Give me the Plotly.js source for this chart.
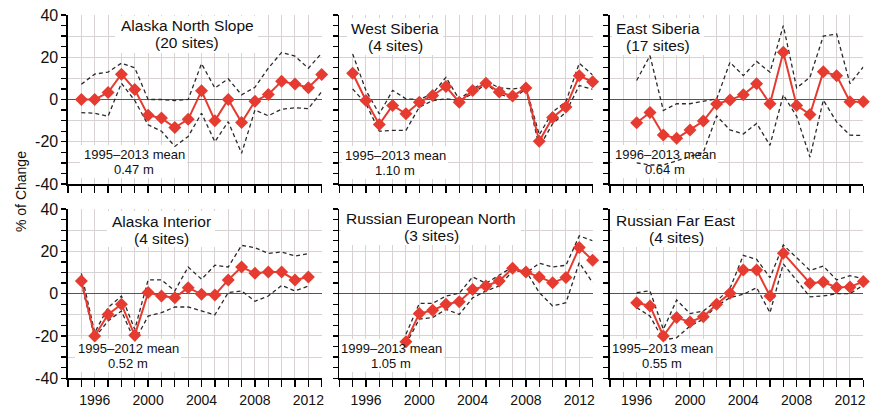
<!DOCTYPE html>
<html>
<head>
<meta charset="utf-8">
<script src="https://cdn.plot.ly/plotly-3.0.1.min.js"></script>
<style>html,body{margin:0;padding:0;background:#fff;}#chart{width:873px;height:411px;}</style>
</head>
<body>
<div id="chart"></div>
<script>
// ---------- DATA ----------
const years = [1995,1996,1997,1998,1999,2000,2001,2002,2003,2004,2005,2006,2007,2008,2009,2010,2011,2012,2013];

const regionNames = ['Alaska North Slope','West Siberia','East Siberia','Alaska Interior','Russian European North','Russian Far East'];
const siteCounts  = ['(20 sites)','(4 sites)','(17 sites)','(4 sites)','(3 sites)','(4 sites)'];
const meanPeriods = ['1995–2013 mean','1995–2013 mean','1996–2013 mean','1995–2012 mean','1999–2013 mean','1995–2013 mean'];
const meanDepths  = ['0.47 m','1.10 m','0.64 m','0.52 m','1.05 m','0.55 m'];

const ansMean  = [0, 0, 3.3, 12, 4.7, -7.5, -8.8, -13.3, -9.4, 4.1, -10, 0, -10.9, -0.8, 2.4, 8.6, 7.3, 5.6, 11.8];
const ansUpper = [7.2, 12, 13, 17.2, 15, 0, 0, -0.5, 0, 17, 5.4, 9.8, 2.2, 5.8, 14.8, 22.3, 20.5, 14.8, 21.9];
const ansLower = [-6.2, -6.5, -8, 7.7, -0.5, -12, -15, -22.2, -17.5, -6.5, -20, -10.5, -25.5, -5, -7.7, -4.6, -3.9, -4.3, 3.7];

const wsMean  = [12.4, -0.5, -11.8, -2.8, -6.8, -1.3, 1.9, 6.1, -1.3, 4.3, 7.7, 3.5, 1.6, 5.5, -19.8, -8.5, -3.5, 11.2, 8.4];
const wsUpper = [21.6, 4.3, -6.8, 4.3, 0.3, 0, 2.7, 10.5, 0, 5, 8.7, 5.5, 5, 5.8, -16.7, -5.9, -1, 17.2, 11.6];
const wsLower = [5, -2, -15, -14.6, -14.6, -3.6, -0.5, 0.3, -0.5, 2.7, 7.4, 2.7, 0.3, 5, -22.5, -11.5, -6, 6.6, 4.8];

const esMean  = [null, -11, -6.1, -16.8, -18.4, -14.4, -10.2, -2.1, -0.2, 2.2, 7.4, -2, 22.4, -2.8, -7.1, 13.1, 11.3, -1.1, -1.1];
const esUpper = [null, 9, 20.8, -5.2, -2, -2, -1, 0.3, 17.6, 11.3, 18, 12.9, 35, 5.5, 10.5, 30, 31, 7.5, 15.4];
const esLower = [null, -30, -31, -31, -29, -27, -25, -7.8, -14.4, -16.3, -11.3, -21.7, 2.2, -8, -27.3, -0.3, -10.6, -16.9, -17];

const aiMean  = [6, -20, -9.8, -5, -19.7, 0.5, -1.1, -1.9, 2.8, -0.3, -0.6, 6.5, 12.6, 9.6, 10.2, 10.2, 6.5, 7.9, null];
const aiUpper = [9.6, -18.4, -6.6, -1.1, -16.9, 6.5, 6.5, 1.3, 12.6, 6.8, 13.4, 12.6, 22.8, 21.7, 19, 19.7, 17.8, 18.9, null];
const aiLower = [4.9, -20.8, -12.9, -8.2, -22.4, -10.6, -9, -6.3, -6.3, -8.2, -10, 0.5, 1.3, -3.6, -1.1, 3.9, 1.3, 3.6, null];

const renMean  = [null, null, null, null, -22.7, -9.4, -7.9, -5, -3.8, 2, 3.6, 6, 12, 10.2, 7.9, 5.2, 7.6, 21.8, 15.8];
const renUpper = [null, null, null, null, -19.2, -4.6, -4.6, -1.1, 0.2, 7.9, 4.9, 8.8, 12.6, 9.6, 14.4, 12.6, 13.4, 27.3, 25];
const renLower = [null, null, null, null, -23.9, -12, -11.3, -7.4, -9.8, -2, 1.3, 3.6, 10.7, 10.7, 0.5, -5.8, -4.3, 14.7, 5.2];

const rfeMean  = [null, -4.3, -5.8, -20, -11.3, -13.4, -10.9, -5, 0.2, 11.2, 11.2, -1.1, 19.1, null, 4.9, 5.5, 2.9, 3.2, 5.7];
const rfeUpper = [null, 0.5, 1.3, -16.9, -3, -9.4, -8.2, -3.5, 2.4, 18.1, 16.2, 7.6, 23, null, 11, 13, 6.5, 8.5, 7];
const rfeLower = [null, -6.6, -10.6, -21.9, -20.8, -15.3, -12.1, -5.8, -1.9, -0.3, 2.8, -9, 14, null, -1.5, -1.1, 0, 0, 4];

const xTickYears  = [1996, 2000, 2004, 2008, 2012];
const xTickLabels = ['1996', '2000', '2004', '2008', '2012'];
const yTickValues = [-40, -20, 0, 20, 40];
const yTickLabels = ['-40', '-20', '0', '20', '40'];

const seriesMean  = [ansMean, wsMean, esMean, aiMean, renMean, rfeMean];
const seriesUpper = [ansUpper, wsUpper, esUpper, aiUpper, renUpper, rfeUpper];
const seriesLower = [ansLower, wsLower, esLower, aiLower, renLower, rfeLower];

// ---------- LAYOUT CONSTANTS ----------
const W = 873, H = 411;
const FONT = 'Liberation Sans, Arial, Helvetica, sans-serif';
const RED = '#e63b30';
const GRID = '#d8d2d2';
const colPx = [[68, 321.7], [339.3, 592.6], [610, 863.3]];
const rowPx = [[15, 184], [209, 378.3]];
const XMIN = 1994, XMAX = 2013;

// text placements in pixels (centre x, line1 y, line2 y) and white boxes [x0,x1,y0,y1]
const titlePos = [[187,25.5,43],[395,28.5,46],[658,28,45.5],[161,221.3,238.8],[431,218,235.5],[676,220.3,237.8]];
const titleBox = [[115,258,16,53],[347,443,18,55],[612,704,18,55],[107,215,211,247],[341,521,208,245],[612,740,210,247]];
const meanPos  = [[134,154.5,169.5],[395,155.3,170.3],[665,154.2,169.2],[128,348.5,363.5],[391,348.5,363.5],[662,348.5,363.5]];
const meanBox  = [[80,187,145,178],[342,448,146,179],[612,718,145,178],[75,181,339,372],[340,444,339,372],[611,715,339,372]];

const traces = [];
const layout = {
  width: W, height: H,
  margin: {l: 0, r: 0, t: 0, b: 0},
  paper_bgcolor: '#fff', plot_bgcolor: '#fff',
  showlegend: false,
  font: {family: FONT, color: '#111'},
  annotations: [], shapes: []
};

const allYears = [];
for (let y = XMIN; y <= XMAX; y++) allYears.push(y);
const yGridVals = [];
for (let v = -40; v <= 40; v += 10) yGridVals.push(v);

for (let p = 0; p < 6; p++) {
  const k = p + 1;
  const col = p % 3, row = Math.floor(p / 3);
  const xs = k === 1 ? 'x' : 'x' + k, ys = k === 1 ? 'y' : 'y' + k;
  const xa = k === 1 ? 'xaxis' : 'xaxis' + k, ya = k === 1 ? 'yaxis' : 'yaxis' + k;
  const [px0, px1] = colPx[col];
  const [py0, py1] = rowPx[row];

  layout[xa] = {
    domain: [px0 / W, px1 / W], anchor: ys, range: [XMIN, XMAX],
    tickmode: 'array', tickvals: allYears,
    ticktext: allYears.map(y => { const i = xTickYears.indexOf(y); return (row === 1 && i >= 0) ? xTickLabels[i] : ''; }),
    showgrid: true, gridcolor: GRID, gridwidth: 1,
    ticks: 'outside', ticklen: 7, tickwidth: 1.3, tickcolor: '#000',
    showline: true, linecolor: '#000', linewidth: 1.6, zeroline: false,
    tickfont: {size: 14, family: FONT, color: '#111'}, ticklabelstandoff: 1,
    fixedrange: true
  };
  layout[ya] = {
    domain: [1 - py1 / H, 1 - py0 / H], anchor: xs, range: [-40, 40],
    tickmode: 'array', tickvals: yGridVals,
    ticktext: yGridVals.map(v => { const i = yTickValues.indexOf(v); return (col === 0 && i >= 0) ? yTickLabels[i] : ''; }),
    showgrid: true, gridcolor: GRID, gridwidth: 1,
    zeroline: true, zerolinecolor: '#555', zerolinewidth: 1.5,
    ticks: 'outside', ticklen: 5, tickwidth: 1.3, tickcolor: '#000',
    minor: {dtick: 5, tick0: 0, ticks: 'outside', ticklen: 5, tickwidth: 1.3, tickcolor: '#000', showgrid: false},
    showline: true, linecolor: '#000', linewidth: 1.6,
    tickfont: {size: 16, family: FONT, color: '#111'},
    fixedrange: true
  };

  const dashed = {color: '#2a2a2a', width: 1.3, dash: '4px,3px'};
  traces.push({x: years, y: seriesUpper[p], xaxis: xs, yaxis: ys, type: 'scatter', mode: 'lines', line: dashed, connectgaps: true, hoverinfo: 'skip'});
  traces.push({x: years, y: seriesLower[p], xaxis: xs, yaxis: ys, type: 'scatter', mode: 'lines', line: dashed, connectgaps: true, hoverinfo: 'skip'});
  traces.push({x: years, y: seriesMean[p], xaxis: xs, yaxis: ys, type: 'scatter', mode: 'lines+markers',
    line: {color: RED, width: 2}, marker: {symbol: 'diamond', size: 10, color: RED}, connectgaps: true, cliponaxis: false});

  // helpers pixel -> data for this panel
  const toX = px => XMIN + (px - px0) / (px1 - px0) * (XMAX - XMIN);
  const toY = py => 40 - (py - py0) / (py1 - py0) * 80;
  const box = b => ({type: 'rect', xref: xs, yref: ys, layer: 'between',
    x0: toX(b[0]), x1: toX(b[1]), y0: toY(b[2]), y1: toY(b[3]),
    fillcolor: '#fff', line: {width: 0}});
  layout.shapes.push(box(titleBox[p]));
  layout.shapes.push(box(meanBox[p]));

  const ann = (text, x, y, size) => ({text, xref: 'paper', yref: 'paper', x: x / W, y: 1 - y / H,
    xanchor: 'center', yanchor: 'middle', showarrow: false, borderpad: 0,
    font: {size, family: FONT, color: '#111'}});
  layout.annotations.push(ann(regionNames[p], titlePos[p][0], titlePos[p][1], 15.5));
  layout.annotations.push(ann(siteCounts[p], titlePos[p][0], titlePos[p][2], 15.5));
  layout.annotations.push(ann(meanPeriods[p], meanPos[p][0], meanPos[p][1], 13));
  layout.annotations.push(ann(meanDepths[p], meanPos[p][0], meanPos[p][2], 13));
}

layout.annotations.push({text: '% of Change', xref: 'paper', yref: 'paper', x: 21 / W, y: 1 - 192 / H,
  xanchor: 'center', yanchor: 'middle', textangle: -90, showarrow: false, font: {size: 14, family: FONT, color: '#111'}});

Plotly.newPlot('chart', traces, layout, {staticPlot: true, displayModeBar: false});
</script>
</body>
</html>
